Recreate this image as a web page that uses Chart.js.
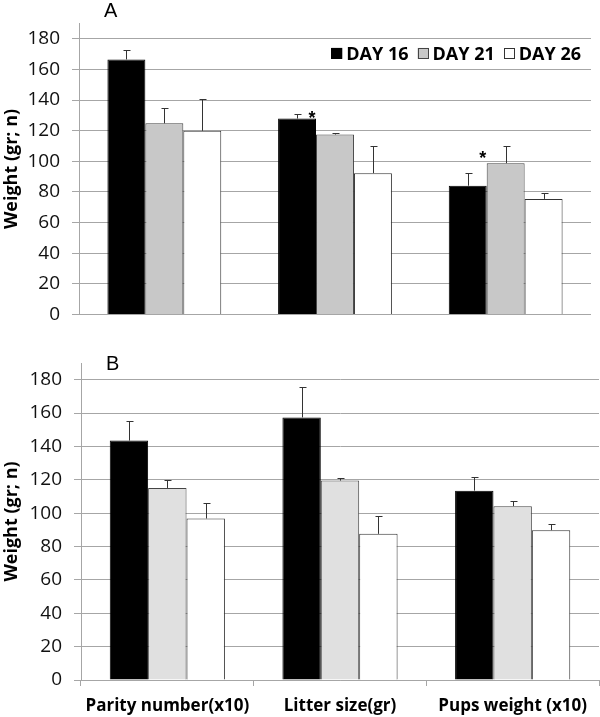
<!DOCTYPE html>
<html>
<head>
<meta charset="utf-8">
<script src="https://cdn.jsdelivr.net/npm/chart.js@4.4.1/dist/chart.umd.min.js"></script>
<style>
    body { margin: 0; background: #fff; }
    .panel { position: absolute; left: 0; width: 600px; }
    #panelA { top: 0; height: 338px; }
    #panelB { top: 338px; height: 379px; }
</style>
</head>
<body>
<div class="panel" id="panelA"><canvas id="chartA"></canvas></div>
<div class="panel" id="panelB"><canvas id="chartB"></canvas></div>
<script>
// categories (bottom axis of panel B)
const categories = ['Parity number(x10)', 'Litter size(gr)', 'Pups weight (x10)'];
const seriesNames = ['DAY 16', 'DAY 21', 'DAY 26'];
const yTicks = [0, 20, 40, 60, 80, 100, 120, 140, 160, 180];

// panel A: means and upper error (SD)
const a16 = [166.5, 127.9, 84.1];
const a21 = [124.8, 117.5, 98.8];
const a26 = [119.9, 92.3, 75.5];
const a16Err = [6.0, 2.7, 8.2];
const a21Err = [10.0, 0.7, 11.5];
const a26Err = [20.7, 17.6, 3.8];
// asterisks over DAY 16 bars in panel A (height in axis units)
const a16Star = [null, 130.4, 104.7];

// panel B
const b16 = [143.5, 157.4, 113.5];
const b21 = [115.1, 119.5, 104.2];
const b26 = [96.8, 87.6, 89.8];
const b16Err = [12.0, 18.2, 8.2];
const b21Err = [4.8, 1.6, 3.1];
const b26Err = [9.0, 10.8, 3.8];

const FONT = "'Open Sans', 'Liberation Sans', sans-serif";
const GRID = '#a6a6a6';

// whiskers, asterisks, legend and the panel letter
const extrasPlugin = {
    id: 'extras',
    afterDatasetsDraw(chart) {
        const ctx = chart.ctx;
        const yScale = chart.scales.y;
        const area = chart.chartArea;
        const o = chart.options.plugins.extras;
        ctx.save();
        chart.data.datasets.forEach((ds, i) => {
            const meta = chart.getDatasetMeta(i);
            meta.data.forEach((bar, j) => {
                const top = Math.round(yScale.getPixelForValue(ds.data[j] + ds.errors[j])) + 0.5;
                const x = Math.round(bar.x) + 0.5;
                ctx.strokeStyle = '#333';
                ctx.lineWidth = 1;
                ctx.beginPath();
                ctx.moveTo(x, bar.y);
                ctx.lineTo(x, top);
                ctx.moveTo(x - 3, top);
                ctx.lineTo(x + 4, top);
                ctx.stroke();
                if (ds.stars && ds.stars[j] != null) {
                    const fs = 18;
                    ctx.fillStyle = '#000';
                    ctx.font = 'bold ' + fs + "px 'Liberation Sans', sans-serif";
                    ctx.textAlign = 'center';
                    ctx.textBaseline = 'alphabetic';
                    const sy = yScale.getPixelForValue(ds.stars[j]);
                    ctx.fillText('*', bar.x + bar.width / 2 - 4, sy + fs * 0.54);
                }
            });
        });

        if (o.legend) {
            ctx.font = 'bold 18px ' + FONT;
            ctx.textBaseline = 'middle';
            ctx.textAlign = 'left';
            const box = 11, gap = 4, spacing = 9;
            const items = chart.data.datasets.map(ds => ({
                text: ds.label, fill: ds.backgroundColor, stroke: ds.borderColor,
                w: box + gap + ctx.measureText(ds.label).width
            }));
            let x = area.right - 10 - items.reduce((s, it) => s + it.w, 0) - spacing * (items.length - 1);
            const cy = area.top + 30;
            items.forEach(it => {
                ctx.fillStyle = it.fill;
                ctx.fillRect(x, cy - box / 2, box, box);
                ctx.strokeStyle = it.stroke;
                ctx.lineWidth = 1;
                ctx.strokeRect(Math.round(x) + 0.5, Math.round(cy - box / 2) + 0.5, box - 1, box - 1);
                ctx.fillStyle = '#000';
                ctx.fillText(it.text, x + box + gap, cy + 1);
                x += it.w + spacing;
            });
        }

        ctx.fillStyle = '#000';
        ctx.font = "20px 'Liberation Sans', sans-serif";
        ctx.textAlign = 'left';
        ctx.textBaseline = 'alphabetic';
        ctx.fillText(o.letter, area.left + 25, o.letterY);
        ctx.restore();
    }
};

function makeChart(id, opts) {
    const ctx = document.getElementById(id).getContext('2d');
    return new Chart(ctx, {
        type: 'bar',
        data: {
            labels: categories,
            datasets: [
                { label: seriesNames[0], data: opts.d16, errors: opts.e16, stars: opts.s16,
                  backgroundColor: '#000', borderColor: '#000', borderWidth: 1 },
                { label: seriesNames[1], data: opts.d21, errors: opts.e21,
                  backgroundColor: opts.gray, borderColor: '#444', borderWidth: 1 },
                { label: seriesNames[2], data: opts.d26, errors: opts.e26,
                  backgroundColor: '#fff', borderColor: '#333', borderWidth: 1 }
            ]
        },
        options: {
            responsive: true,
            maintainAspectRatio: false,
            animation: false,
            layout: { padding: opts.padding },
            datasets: {
                bar: { categoryPercentage: 0.667, barPercentage: 1.0 }
            },
            scales: {
                x: {
                    display: opts.showX,
                    grid: { display: true, drawOnChartArea: false, offset: true, tickLength: 6, color: GRID },
                    border: { color: GRID },
                    ticks: { padding: 10, color: '#000', font: { family: FONT, size: 17, weight: 'bold' } },
                    afterFit(scale) { if (opts.showX) scale.height = 37; }
                },
                y: {
                    min: 0,
                    max: 190,
                    ticks: { stepSize: 20, padding: 12, color: '#111', font: { family: FONT, size: 19 } },
                    afterBuildTicks(scale) {
                        scale.ticks = yTicks.map(v => ({ value: v }));
                    },
                    afterFit(scale) { scale.width = opts.yWidth; },
                    grid: { color: GRID, tickLength: 7 },
                    border: { color: GRID },
                    title: {
                        display: true,
                        text: 'Weight (gr; n)',
                        color: '#000',
                        padding: { top: 1, bottom: 0 },
                        font: { family: FONT, size: 18, weight: 'bold' }
                    }
                }
            },
            plugins: {
                legend: { display: false },
                tooltip: { enabled: false },
                extras: { letter: opts.letter, letterY: opts.letterY, legend: opts.showLegend }
            }
        },
        plugins: [extrasPlugin]
    });
}

document.addEventListener('DOMContentLoaded', function() {
    makeChart('chartA', {
        d16: a16, d21: a21, d26: a26, e16: a16Err, e21: a21Err, e26: a26Err, s16: a16Star,
        gray: '#c8c8c8', showX: false, showLegend: true, yWidth: 79,
        padding: { left: 0, right: 9, top: 8, bottom: 22 },
        letter: 'A', letterY: 17
    });
    makeChart('chartB', {
        d16: b16, d21: b21, d26: b26, e16: b16Err, e21: b21Err, e26: b26Err, s16: null,
        gray: '#e0e0e0', showX: true, showLegend: false, yWidth: 81,
        padding: { left: 0, right: 1, top: 25, bottom: 0 },
        letter: 'B', letterY: 32
    });
});
</script>
</body>
</html>
